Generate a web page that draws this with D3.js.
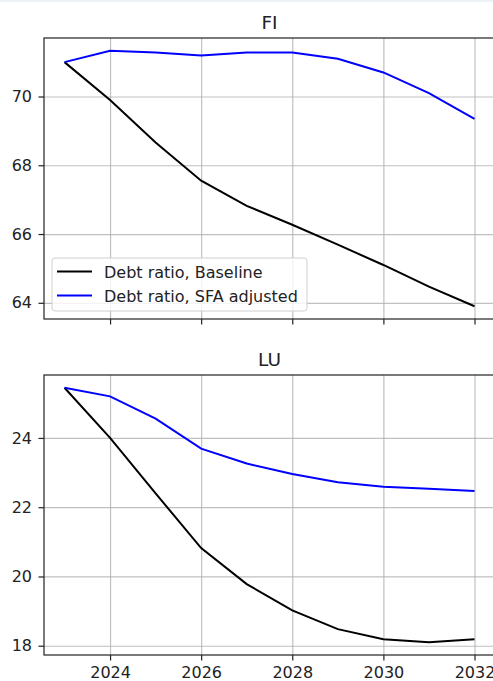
<!DOCTYPE html>
<html lang="en">
<head>
    <meta charset="UTF-8">
    <title>Debt ratio FI / LU</title>
    <script src="https://d3js.org/d3.v7.min.js"></script>
    <style>
        body { margin: 0; background: #fff; }
        svg text { font-family: "DejaVu Sans", sans-serif; fill: #222; }
        .grid line { stroke: #b0b0b0; stroke-width: 1.2; stroke-opacity: 0.8; }
        .grid path { display: none; }
    </style>
</head>
<body>
    <svg id="chart" width="493" height="681"></svg>

    <script>
        // Datos
        const years = [2023, 2024, 2025, 2026, 2027, 2028, 2029, 2030, 2031, 2032];
        const xTicks = [2024, 2026, 2028, 2030, 2032];

        const fiBaseline = [71.0, 69.9, 68.66, 67.55, 66.82, 66.27, 65.69, 65.1, 64.47, 63.9];
        const fiSfa      = [71.0, 71.33, 71.28, 71.19, 71.28, 71.28, 71.1, 70.7, 70.1, 69.35];
        const fiTicks = [64, 66, 68, 70];

        const luBaseline = [25.45, 24.0, 22.4, 20.82, 19.78, 19.02, 18.48, 18.19, 18.1, 18.19];
        const luSfa      = [25.45, 25.2, 24.56, 23.69, 23.26, 22.96, 22.72, 22.59, 22.53, 22.47];
        const luTicks = [18, 20, 22, 24];

        const seriesNames = ["Debt ratio, Baseline", "Debt ratio, SFA adjusted"];
        const seriesColors = ["#000000", "#0000ff"];

        const svg = d3.select("#chart");
        const left = 44, right = 495;

        // franja clara arriba como en la imagen
        svg.append("rect").attr("x", 0).attr("y", 0).attr("width", 493).attr("height", 2)
           .attr("fill", "#eef2f7");

        // Escala x comun (margen 5% como matplotlib)
        const xPad = (d3.max(years) - d3.min(years)) * 0.05;
        const x = d3.scaleLinear()
                    .domain([d3.min(years) - xPad, d3.max(years) + xPad])
                    .range([left, right]);

        function panel(title, top, bottom, s1, s2, yTicks, showX, withLegend) {
            const all = s1.concat(s2);
            const yPad = (d3.max(all) - d3.min(all)) * 0.05;
            const y = d3.scaleLinear()
                        .domain([d3.min(all) - yPad, d3.max(all) + yPad])
                        .range([bottom, top]);

            // Rejilla
            svg.append("g")
               .attr("class", "grid")
               .attr("transform", `translate(0,${bottom})`)
               .call(d3.axisBottom(x).tickValues(xTicks).tickSize(-(bottom - top)).tickFormat(""));
            svg.append("g")
               .attr("class", "grid")
               .attr("transform", `translate(${left},0)`)
               .call(d3.axisLeft(y).tickValues(yTicks).tickSize(-(right - left)).tickFormat(""));

            // Lineas
            const line = d3.line()
                           .x((d, i) => x(years[i]))
                           .y(d => y(d));
            [s1, s2].forEach((s, k) => {
                svg.append("path")
                   .datum(s)
                   .attr("fill", "none")
                   .attr("stroke", seriesColors[k])
                   .attr("stroke-width", 2)
                   .attr("d", line);
            });

            // Marco
            svg.append("rect")
               .attr("x", left).attr("y", top)
               .attr("width", right - left).attr("height", bottom - top)
               .attr("fill", "none").attr("stroke", "#222").attr("stroke-width", 1.2);

            // Ejes
            const xa = svg.append("g")
               .attr("transform", `translate(0,${bottom})`)
               .call(d3.axisBottom(x).tickValues(xTicks).tickSize(5.5).tickPadding(6.5)
                     .tickFormat(showX ? d3.format("d") : ""));
            xa.select(".domain").remove();
            xa.selectAll("line").attr("stroke", "#222").attr("stroke-width", 1.2);
            xa.selectAll("text").attr("font-size", "16px").attr("fill", "#222");

            const ya = svg.append("g")
               .attr("transform", `translate(${left},0)`)
               .call(d3.axisLeft(y).tickValues(yTicks).tickSize(5.5).tickPadding(6.5));
            ya.select(".domain").remove();
            ya.selectAll("line").attr("stroke", "#222").attr("stroke-width", 1.2);
            ya.selectAll("text").attr("font-size", "16px").attr("fill", "#222");

            // Titulo
            svg.append("text")
               .attr("x", (left + right) / 2)
               .attr("y", top - 9)
               .attr("text-anchor", "middle")
               .attr("font-size", "18.5px")
               .text(title);

            if (withLegend) {
                const lg = svg.append("g").attr("transform", `translate(52,258)`);
                lg.append("rect")
                  .attr("width", 255).attr("height", 53).attr("rx", 3)
                  .attr("fill", "#fff").attr("fill-opacity", 0.8)
                  .attr("stroke", "#d0d0d0");
                seriesNames.forEach((n, k) => {
                    const yy = 13.5 + k * 24;
                    lg.append("line")
                      .attr("x1", 5).attr("x2", 40).attr("y1", yy).attr("y2", yy)
                      .attr("stroke", seriesColors[k]).attr("stroke-width", 2);
                    lg.append("text")
                      .attr("x", 52).attr("y", yy + 6)
                      .attr("font-size", "16px")
                      .text(n);
                });
            }
        }

        panel("FI", 38, 319, fiBaseline, fiSfa, fiTicks, false, true);
        panel("LU", 375, 655, luBaseline, luSfa, luTicks, true, false);
    </script>
</body>
</html>
